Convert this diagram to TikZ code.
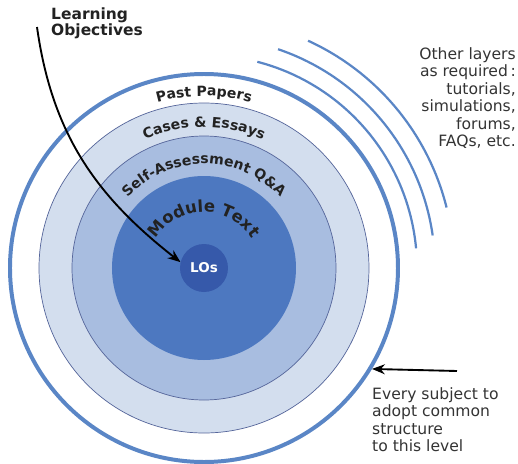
\documentclass[tikz,border=0pt]{standalone}
\usepackage{fontspec}
\setmainfont{DejaVu Sans}
\usepackage{tikz}
\usetikzlibrary{arrows.meta,decorations.text}
\definecolor{cRim}{HTML}{5A86C6}
\definecolor{cCase}{HTML}{D3DEEE}
\definecolor{cSelf}{HTML}{A8BDE0}
\definecolor{cMod}{HTML}{4D78C0}
\definecolor{cLos}{HTML}{3659AA}
\definecolor{cEdge}{HTML}{55659A}
\definecolor{cInk}{HTML}{222222}
\definecolor{cNote}{HTML}{333333}
\def\px{0.03cm}
\newcommand{\ringfont}{\fontsize{12}{14}\selectfont\bfseries}
\newcommand{\modfont}{\fontsize{14}{16}\selectfont\bfseries}
\tikzset{
  lay/rim/.style   ={circle, draw=cRim, line width=3.4pt, fill=white,
                     inner sep=0pt, minimum size=#1*\px},
  lay/disc/.style  ={circle, draw=cEdge, line width=0.6pt, inner sep=0pt,
                     minimum size=#1*\px},
  lay/core/.style  ={circle, fill=cLos, inner sep=0pt, minimum size=#1*\px,
                     text=white, font=\fontsize{11.5}{13}\selectfont\bfseries},
  lay/wave/.style  ={cRim, line width=1.9pt},
  lay/ringtext/.style={decorate, decoration={text along path, text align=center,
                     text color=cInk, text={|\ringfont|#1}}},
  lay/modtext/.style ={decorate, decoration={text along path, text align=center,
                     text color=cInk, text={|\modfont|#1}}},
  lay/arr/.style   ={-{Stealth[length=11pt, width=8.5pt]}, line width=1.6pt, black},
  lay/note/.style  ={font=\fontsize{13.3}{15}\selectfont, text=cNote, inner sep=0pt},
  lay/title/.style ={font=\fontsize{13.2}{13.6}\selectfont\bfseries, text=cInk, inner sep=0pt}
}
\begin{document}
\begin{tikzpicture}[x=\px, y=\px]
    \useasboundingbox (-204,-196) rectangle (314,268);
    % radii of the layers (pixels of the original)
    \def\Rpast{194}
    \def\Rcase{165}
    \def\Rself{132}
    \def\Rmod{92}
    \def\Rlo{24}
    % nested layers, outside in
    \node[lay/rim=2*\Rpast] (past) at (0,0) {};
    \node[lay/disc=2*\Rcase, fill=cCase] (cases) at (0,0) {};
    \node[lay/disc=2*\Rself, fill=cSelf] (self) at (0,0) {};
    \node[lay/disc=2*\Rmod, fill=cMod, draw=none] (module) at (0,0) {};
    \node[lay/core=2*\Rlo] (los) at (0,0) {LOs};
    % further layers as required
    \foreach \r/\a/\b in {213/75.5/5.3, 231/71.3/8.1, 250/65.4/14} {
      \draw[lay/wave] (\a:\r) arc[start angle=\a, end angle=\b, radius=\r];
    }
    % curved layer names
    \path[lay/ringtext={Past Papers}] (150:172) arc[start angle=150, end angle=30, radius=172];
    \path[lay/ringtext={Cases {\&} Essays}] (150:141) arc[start angle=150, end angle=30, radius=141];
    \path[lay/ringtext={Self-Assessment Q{\&}A}] (160:104) arc[start angle=160, end angle=20, radius=104];
    \path[lay/modtext={Module Text}] (170:56) arc[start angle=170, end angle=10, radius=56];
    % learning objectives
    \node[lay/title, anchor=north west, align=left] (lo) at (-153,260) {Learning\\Objectives};
    \coordinate (lostart) at (-167,241);
    \draw[lay/arr] (lostart) to[out=-82, in=142] (los.166);
    % other layers
    \node[lay/note, anchor=north east, align=right] (other) at (312,221)
         {Other layers\\as required\,:\\tutorials,\\simulations,\\forums,\\FAQs, etc.};
    % common structure
    \coordinate (subj) at (253,-103);
    \draw[lay/arr] (subj) -- (past.-31.5);
    \node[lay/note, anchor=north west, align=left] (common) at (168,-119)
         {Every subject to\\adopt common\\structure\\to this level};
  \end{tikzpicture}
\end{document}
